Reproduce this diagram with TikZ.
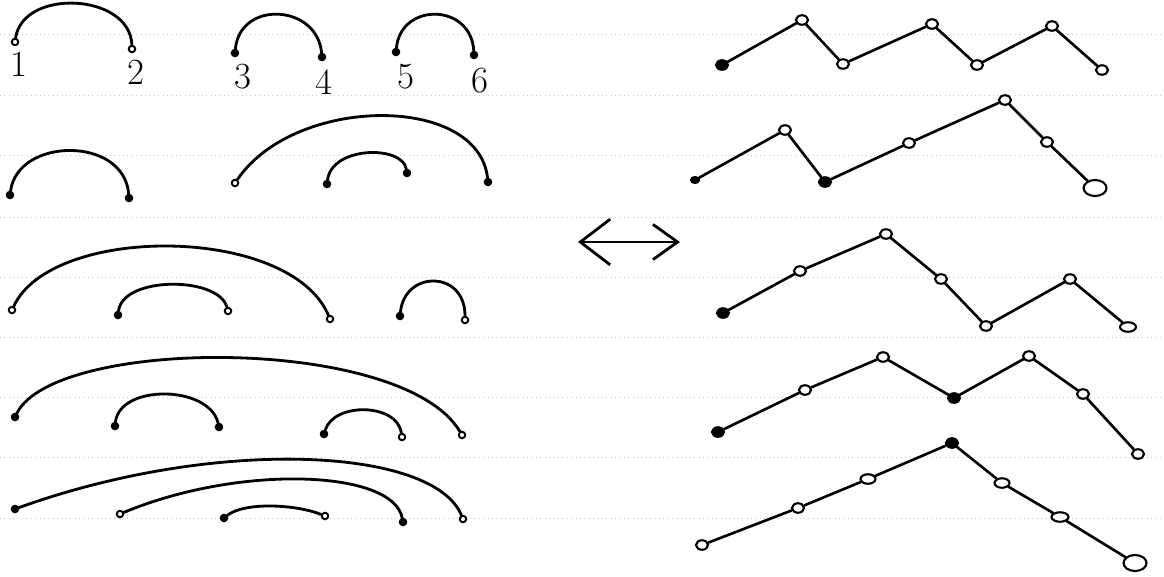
\documentclass[tikz,border=0pt]{standalone}
\usepackage{tikz}
\usetikzlibrary{arrows.meta, shapes.geometric}

\begin{document}
\begin{tikzpicture}[
    x=0.2mm, y=-0.2mm,
    dot/.style={circle, draw, line width=1.1pt, inner sep=0pt, minimum size=1.3mm},
    blob/.style={dot, fill},
    vtx/.style={ellipse, draw, line width=1.2pt, inner sep=0pt, minimum width=2.4mm, minimum height=1.9mm},
    vtxfill/.style={vtx, fill},
    bigvtx/.style={vtx, minimum width=4.6mm, minimum height=3.2mm},
    num/.style={font=\fontsize{21}{24}\selectfont},
    link/.style={line width=1.6pt, line cap=round},
    walk/.style={line width=1.5pt, line cap=round, line join=round},
    biarrow/.style={{Straight Barb[length=17pt, width=26pt]}-{Straight Barb[length=14pt, width=20pt]}, line width=1.6pt},
    ruling/.style={gray!45, dotted, line width=0.5pt},
]
    \useasboundingbox (0,0) rectangle (1164,576);

    % Paper lines
    \draw[ruling] (0,34) -- (1164,34) (0,95) -- (1164,95) (0,155) -- (1164,155)
        (0,217) -- (1164,217) (0,277) -- (1164,277) (0,337) -- (1164,337)
        (0,397) -- (1164,397) (0,457) -- (1164,457) (0,518) -- (1164,518);

    % Row 1: (12)(34)(56)
    \node[dot] (m1a) at (15,42) {};
    \node[dot] (m1b) at (132,49) {};
    \node[blob] (m1c) at (235,53) {};
    \node[blob] (m1d) at (322,57) {};
    \node[blob] (m1e) at (396,52) {};
    \node[blob] (m1f) at (474,55) {};
    \node[num] (n1) at (19,64) {1};
    \node[num] (n2) at (136,72) {2};
    \node[num] (n3) at (243,77) {3};
    \node[num] (n4) at (324,82) {4};
    \node[num] (n5) at (406,77) {5};
    \node[num] (n6) at (480,81) {6};
    \draw[link] (m1a) .. controls +(8,-54) and +(-2,-56) .. (m1b);
    \draw[link] (m1c) .. controls +(5,-53) and +(-5,-53) .. (m1d);
    \draw[link] (m1e) .. controls +(5,-50) and +(-3,-52) .. (m1f);

    % Row 2: (12)(3(45)6)
    \node[blob] (m2a) at (10,195) {};
    \node[blob] (m2b) at (129,198) {};
    \node[dot] (m2c) at (235,183) {};
    \node[blob] (m2d) at (327,184) {};
    \node[blob] (m2e) at (407,173) {};
    \node[blob] (m2f) at (488,182) {};
    \draw[link] (m2a) .. controls +(8,-58) and +(-5,-62) .. (m2b);
    \draw[link] (m2c) .. controls +(60,-88) and +(-10,-88) .. (m2f);
    \draw[link] (m2d) .. controls +(5,-38) and +(-5,-28) .. (m2e);

    % Row 3: (1(23)4)(56)
    \node[dot] (m3a) at (12,310) {};
    \node[blob] (m3b) at (118,315) {};
    \node[dot] (m3c) at (228,311) {};
    \node[dot] (m3d) at (330,319) {};
    \node[blob] (m3e) at (400,316) {};
    \node[dot] (m3f) at (465,320) {};
    \draw[link] (m3a) .. controls +(40,-86) and +(-40,-94) .. (m3d);
    \draw[link] (m3b) .. controls +(5,-39) and +(-10,-35) .. (m3c);
    \draw[link] (m3e) .. controls +(5,-46) and +(0,-50) .. (m3f);

    % Row 4: (1(23)(45)6)
    \node[blob] (m4a) at (15,417) {};
    \node[blob] (m4b) at (115,426) {};
    \node[blob] (m4c) at (219,427) {};
    \node[blob] (m4d) at (324,434) {};
    \node[dot] (m4e) at (402,437) {};
    \node[dot] (m4f) at (462,435) {};
    \draw[link] (m4a) .. controls +(40,-80) and +(-60,-100) .. (m4f);
    \draw[link] (m4b) .. controls +(5,-42) and +(-10,-42) .. (m4c);
    \draw[link] (m4d) .. controls +(10,-32) and +(-5,-34) .. (m4e);

    % Row 5: (1(2(34)5)6)
    \node[blob] (m5a) at (15,509) {};
    \node[dot] (m5b) at (120,514) {};
    \node[blob] (m5c) at (224,518) {};
    \node[dot] (m5d) at (325,516) {};
    \node[blob] (m5e) at (403,522) {};
    \node[dot] (m5f) at (463,519) {};
    \draw[link] (m5a) .. controls +(200,-72) and +(-30,-72) .. (m5f);
    \draw[link] (m5b) .. controls +(120,-50) and +(-10,-52) .. (m5e);
    \draw[link] (m5c) .. controls +(20,-16) and +(-30,-12) .. (m5d);

    % Bijection arrow
    \coordinate (lft) at (578,242);
    \coordinate (rgt) at (680,242);
    \draw[biarrow] (lft) -- (rgt);

    % Dyck paths
    \node[vtxfill] (p1a) at (722,65) {};
    \node[vtx] (p1b) at (802,20) {};
    \node[vtx] (p1c) at (843,64) {};
    \node[vtx] (p1d) at (932,24) {};
    \node[vtx] (p1e) at (977,65) {};
    \node[vtx] (p1f) at (1052,26) {};
    \node[vtx] (p1g) at (1102,70) {};
    \draw[walk] (p1a) -- (p1b) -- (p1c) -- (p1d) -- (p1e) -- (p1f) -- (p1g);

    \node[vtxfill, minimum width=1.6mm, minimum height=1.2mm] (p2a) at (695,180) {};
    \node[vtx] (p2b) at (785,130) {};
    \node[vtxfill] (p2c) at (825,182) {};
    \node[vtx] (p2d) at (909,143) {};
    \node[vtx] (p2e) at (1005,100) {};
    \node[vtx] (p2f) at (1047,142) {};
    \node[bigvtx] (p2g) at (1095,188) {};
    \draw[walk] (p2a) -- (p2b) -- (p2c) -- (p2d) -- (p2e) -- (p2f) -- (p2g);

    \node[vtxfill] (p3a) at (723,313) {};
    \node[vtx] (p3b) at (800,271) {};
    \node[vtx] (p3c) at (886,234) {};
    \node[vtx] (p3d) at (941,279) {};
    \node[vtx] (p3e) at (986,326) {};
    \node[vtx] (p3f) at (1070,279) {};
    \node[vtx, minimum width=3.2mm] (p3g) at (1128,327) {};
    \draw[walk] (p3a) -- (p3b) -- (p3c) -- (p3d) -- (p3e) -- (p3f) -- (p3g);

    \node[vtxfill] (p4a) at (718,432) {};
    \node[vtx] (p4b) at (805,390) {};
    \node[vtx] (p4c) at (883,357) {};
    \node[vtxfill] (p4d) at (954,398) {};
    \node[vtx] (p4e) at (1029,356) {};
    \node[vtx] (p4f) at (1083,394) {};
    \node[vtx] (p4g) at (1138,454) {};
    \draw[walk] (p4a) -- (p4b) -- (p4c) -- (p4d) -- (p4e) -- (p4f) -- (p4g);

    \node[vtx] (p5a) at (702,545) {};
    \node[vtx] (p5b) at (798,508) {};
    \node[vtx, minimum width=3mm] (p5c) at (868,479) {};
    \node[vtxfill] (p5d) at (952,443) {};
    \node[vtx, minimum width=3mm] (p5e) at (1002,483) {};
    \node[vtx, minimum width=3.4mm] (p5f) at (1060,517) {};
    \node[bigvtx] (p5g) at (1135,563) {};
    \draw[walk] (p5a) -- (p5b) -- (p5c) -- (p5d) -- (p5e) -- (p5f) -- (p5g);
\end{tikzpicture}
\end{document}
